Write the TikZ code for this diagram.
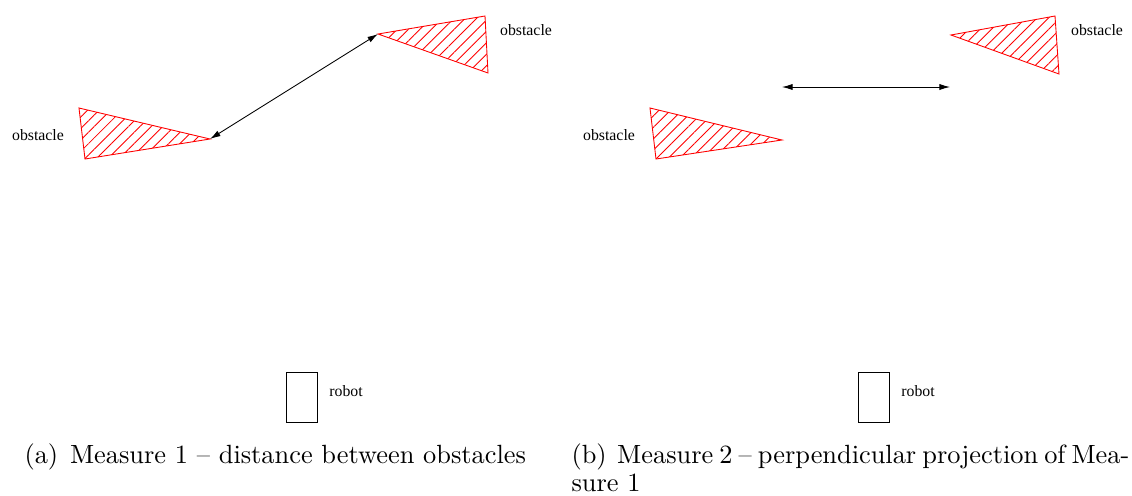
\documentclass[tikz,border=0pt]{standalone}
\usepackage{fontspec}
\newfontfamily\figfont{Liberation Serif}
\usetikzlibrary{arrows.meta,patterns.meta,positioning}
\definecolor{HatchRed}{HTML}{FF0000}

\begin{document}
\begin{tikzpicture}[
  x=0.02cm, y=-0.02cm,
  obstacle/.style={draw=HatchRed,line width=0.5pt,pattern={Lines[angle=45,distance=4.6pt,line width=0.5pt]},pattern color=HatchRed},
  figtext/.style={font=\figfont\fontsize{9}{10}\selectfont,inner sep=0pt},
  robotbox/.style={draw,line width=0.5pt,minimum width=0.62cm,minimum height=1cm,inner sep=0pt},
  arrow/.style={{Latex[length=6pt,width=3.5pt]}-{Latex[length=6pt,width=3.5pt]},line width=0.5pt},
  caption/.style={font=\fontsize{10}{11}\selectfont,inner sep=0pt,anchor=base west,scale=1.5,transform shape}
]
  \useasboundingbox (0,0) rectangle (1132,495);

  % (a) distance between obstacles
  \coordinate (a1top) at (79,108);
  \coordinate (a1bot) at (85,159);
  \coordinate (a1tip) at (210,139);
  \coordinate (a2tip) at (378,34);
  \coordinate (a2top) at (485,16);
  \coordinate (a2bot) at (488,73);
  \filldraw[obstacle] (a1top) -- (a1tip) -- (a1bot) -- cycle;
  \filldraw[obstacle] (a2tip) -- (a2top) -- (a2bot) -- cycle;
  \node[figtext] (a1lbl) at (38,135) {obstacle};
  \node[figtext] (a2lbl) at (526,30) {obstacle};
  \draw[arrow] (a1tip) -- (a2tip);
  \node[robotbox] (arobot) at (301.5,397) {};
  \node[figtext, anchor=west] (arobotlbl) at (329,391) {robot};
  \node[caption] (capa) at (24,463) {(a)\hspace{0.45em}Measure 1 -- distance between obstacles};

  % (b) perpendicular projection
  \coordinate (b1top) at (650,108);
  \coordinate (b1bot) at (656,159);
  \coordinate (b1tip) at (782,140);
  \coordinate (b2tip) at (951,35);
  \coordinate (b2top) at (1055,16);
  \coordinate (b2bot) at (1059,74);
  \coordinate (bleft) at (782,87);
  \coordinate (bright) at (950,87);
  \filldraw[obstacle] (b1top) -- (b1tip) -- (b1bot) -- cycle;
  \filldraw[obstacle] (b2tip) -- (b2top) -- (b2bot) -- cycle;
  \node[figtext] (b1lbl) at (609,135) {obstacle};
  \node[figtext] (b2lbl) at (1097,30) {obstacle};
  \draw[arrow] (bleft) -- (bright);
  \node[robotbox] (brobot) at (873.5,397) {};
  \node[figtext, anchor=west] (brobotlbl) at (901,391) {robot};
  \node[caption] (capb) at (571,463) {\makebox[7.44cm][s]{(b)\hspace{0.4em}Measure 2 -- perpendicular projection of Mea-}};
  \node[caption] (capb2) at (571,491) {sure 1};
\end{tikzpicture}
\end{document}
